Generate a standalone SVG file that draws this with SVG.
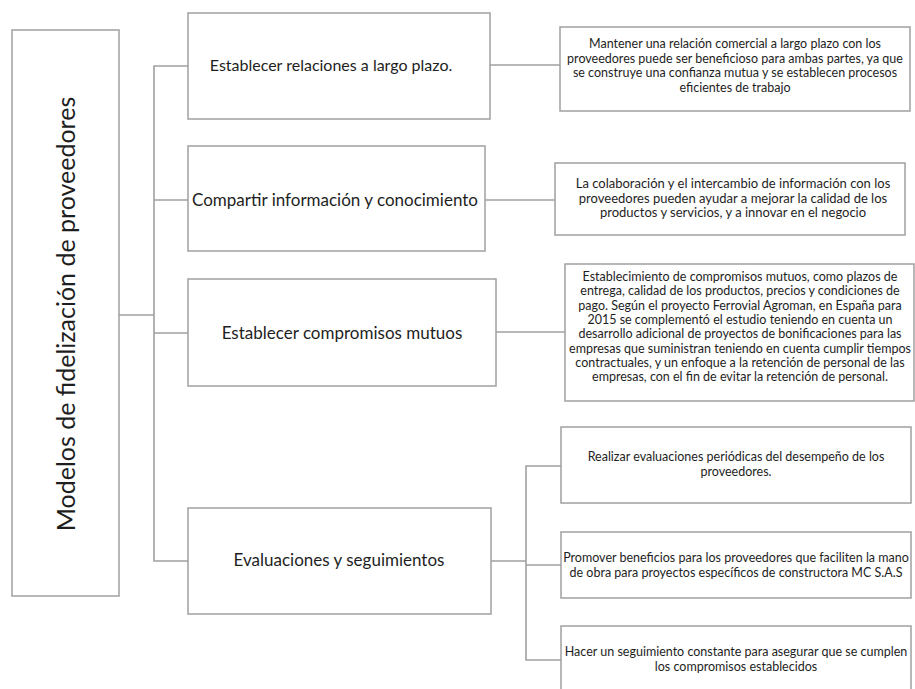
<svg xmlns="http://www.w3.org/2000/svg" width="915" height="689" viewBox="0 0 915 689">
<style>
.box{fill:#ffffff;stroke:#a0a0a0;stroke-width:1.5}
.con{fill:none;stroke:#a0a0a0;stroke-width:1.6}
text{font-family:Lato,"Liberation Sans",sans-serif;fill:#1e1e1e;text-anchor:middle}
.root{font-size:25px}
.l1{font-size:16px}
.l1b{font-size:17px}
.d{font-size:12.5px}
.d2{font-size:13px}
</style>
<rect width="915" height="689" fill="#ffffff"/>
<g id="connectors">
<polyline class="con" points="119,315 154,315"/>
<polyline class="con" points="188,66 154,66 154,561 188,561"/>
<line class="con" x1="154" y1="200" x2="188" y2="200"/>
<line class="con" x1="154" y1="333" x2="188" y2="333"/>
<line class="con" x1="490" y1="65" x2="560" y2="65"/>
<line class="con" x1="485" y1="200" x2="555" y2="200"/>
<line class="con" x1="496" y1="332" x2="565" y2="332"/>
<line class="con" x1="491" y1="561" x2="526" y2="561"/>
<polyline class="con" points="561,466 526,466 526,660 561,660"/>
<line class="con" x1="526" y1="565" x2="561" y2="565"/>
</g>
<g id="root">
<rect class="box" x="12" y="30" width="107" height="566"/>
<text class="root" transform="translate(66,314) rotate(-90)" y="9">Modelos de fidelización de proveedores</text>
</g>
<g id="n1">
<rect class="box" x="188" y="13" width="302" height="106"/>
<text class="l1" x="331" y="71">Establecer relaciones a largo plazo.</text>
</g>
<g id="n2">
<rect class="box" x="188" y="146" width="297" height="105"/>
<text class="l1b" x="335" y="206">Compartir información y conocimiento</text>
</g>
<g id="n3">
<rect class="box" x="188" y="279" width="308" height="107"/>
<text class="l1b" x="342" y="339">Establecer compromisos mutuos</text>
</g>
<g id="n4">
<rect class="box" x="188" y="508" width="303" height="106"/>
<text class="l1b" x="339" y="566">Evaluaciones y seguimientos</text>
</g>
<g id="d1">
<rect class="box" x="560" y="27" width="350" height="84"/>
<text class="d" x="735" y="48">Mantener una relación comercial a largo plazo con los</text>
<text class="d" x="735" y="62.5">proveedores puede ser beneficioso para ambas partes, ya que</text>
<text class="d" x="735" y="77">se construye una confianza mutua y se establecen procesos</text>
<text class="d" x="735" y="91.5">eficientes de trabajo</text>
</g>
<g id="d2">
<rect class="box" x="555" y="163" width="350" height="72"/>
<text class="d2" x="733" y="188">La colaboración y el intercambio de información con los</text>
<text class="d2" x="733" y="202.5">proveedores pueden ayudar a mejorar la calidad de los</text>
<text class="d2" x="733" y="217">productos y servicios, y a innovar en el negocio</text>
</g>
<g id="d3">
<rect class="box" x="565" y="264" width="349" height="137"/>
<text class="d" x="740" y="281">Establecimiento de compromisos mutuos, como plazos de</text>
<text class="d" x="740" y="295.3">entrega, calidad de los productos, precios y condiciones de</text>
<text class="d" x="740" y="309.6">pago. Según el proyecto Ferrovial Agroman, en España para</text>
<text class="d" x="740" y="323.9">2015 se complementó el estudio teniendo en cuenta un</text>
<text class="d" x="740" y="338.2">desarrollo adicional de proyectos de bonificaciones para las</text>
<text class="d" x="740" y="352.5">empresas que suministran teniendo en cuenta cumplir tiempos</text>
<text class="d" x="740" y="366.8">contractuales, y un enfoque a la retención de personal de las</text>
<text class="d" x="740" y="381.1">empresas, con el fin de evitar la retención de personal.</text>
</g>
<g id="d4">
<rect class="box" x="561" y="427" width="350" height="76"/>
<text class="d" x="736" y="461">Realizar evaluaciones periódicas del desempeño de los</text>
<text class="d" x="736" y="475.5">proveedores.</text>
</g>
<g id="d5">
<rect class="box" x="561" y="532" width="350" height="66"/>
<text class="d" x="736" y="562">Promover beneficios para los proveedores que faciliten la mano</text>
<text class="d" x="736" y="576.5">de obra para proyectos específicos de constructora MC S.A.S</text>
</g>
<g id="d6">
<rect class="box" x="561" y="626" width="350" height="80"/>
<text class="d" x="736" y="656">Hacer un seguimiento constante para asegurar que se cumplen</text>
<text class="d" x="736" y="670.5">los compromisos establecidos</text>
</g>
</svg>
